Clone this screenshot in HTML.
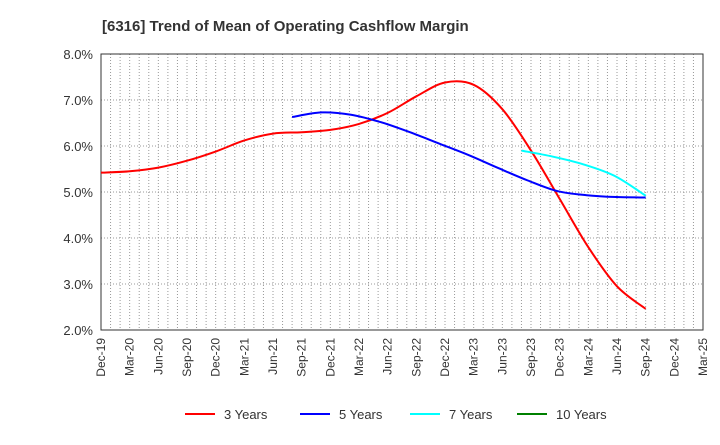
<!DOCTYPE html>
<html><head><meta charset="utf-8"><style>
body{margin:0;background:#fff;font-family:"Liberation Sans",sans-serif}
</style></head><body>
<svg id="c" width="720" height="440" xmlns="http://www.w3.org/2000/svg" font-family="Liberation Sans, sans-serif">
<text x="102" y="31" font-size="15" font-weight="bold" fill="#333">[6316]  Trend of Mean of Operating Cashflow Margin</text>
<g id="grid"></g><g id="axes"></g><g id="series"></g><g id="legend"></g>
</svg>
<script>
const xLabels=["Dec-19","Mar-20","Jun-20","Sep-20","Dec-20","Mar-21","Jun-21","Sep-21","Dec-21","Mar-22","Jun-22","Sep-22","Dec-22","Mar-23","Jun-23","Sep-23","Dec-23","Mar-24","Jun-24","Sep-24","Dec-24","Mar-25"];
const yTicks=[2,3,4,5,6,7,8];
const s3=[5.42,5.45,5.53,5.68,5.88,6.12,6.27,6.30,6.35,6.48,6.72,7.08,7.38,7.33,6.80,5.90,4.85,3.80,2.95,2.46];
const s5=[6.63,6.73,6.68,6.52,6.30,6.05,5.80,5.52,5.25,5.02,4.93,4.89,4.88];
const s7=[5.90,5.77,5.60,5.35,4.92];
const s10=[];
const names=["3 Years","5 Years","7 Years","10 Years"];
const NS="http://www.w3.org/2000/svg";
const L=101,R=703,T=54,B=330;
const xm=m=>L+(R-L)*m/63;
const xq=i=>xm(i*3);
const y=v=>B-(v-2)/6*(B-T);
function mk(t,a,p){const e=document.createElementNS(NS,t);for(const k in a)e.setAttribute(k,a[k]);p.appendChild(e);return e;}
const g=document.getElementById('grid'),ax=document.getElementById('axes'),se=document.getElementById('series'),lg=document.getElementById('legend');
for(let m=1;m<63;m++){const e=mk('line',{x1:xm(m),x2:xm(m),y1:T,y2:B,stroke:'#999','stroke-dasharray':'1,2','stroke-width':1},g);

}
yTicks.forEach(v=>{if(v>2&&v<8){const e=mk('line',{x1:L,x2:R,y1:y(v),y2:y(v),stroke:'#999','stroke-dasharray':'1,2'},g);

}
const t=mk('text',{x:L-8,y:y(v)+5,'text-anchor':'end','font-size':13,fill:'#333'},ax);t.textContent=v.toFixed(1)+'%';

});
const fr=mk('rect',{x:L,y:T,width:R-L,height:B-T,fill:'none',stroke:'#333'},ax);


xLabels.forEach((l,i)=>{const t=mk('text',{transform:`translate(${xq(i)+4},${B+8}) rotate(-90)`,'text-anchor':'end','font-size':12,fill:'#333'},ax);t.textContent=l;

});
function path(pts){let d=`M${pts[0][0]},${pts[0][1]}`;for(let i=0;i<pts.length-1;i++){const p0=pts[i-1]||pts[i],p1=pts[i],p2=pts[i+1],p3=pts[i+2]||p2;
d+=` C${p1[0]+(p2[0]-p0[0])/6},${p1[1]+(p2[1]-p0[1])/6} ${p2[0]-(p3[0]-p1[0])/6},${p2[1]-(p3[1]-p1[1])/6} ${p2[0]},${p2[1]}`;}return d;}
const END=57;
const series=[[s3,0,'#ff0000','series-3-years'],[s5,20,'#0000ff','series-5-years'],[s7,44,'#00ffff','series-7-years'],[s10,48,'#008000','series-10-years']];
series.forEach(([d,start,c,n])=>{if(d.length<2)return;const step=(END-start)/(d.length-1);
const p=mk('path',{d:path(d.map((v,i)=>[xm(start+i*step),y(v)])),fill:'none',stroke:c,'stroke-width':2},se);

});
const lx=[185,300,410,517];
series.forEach((s,i)=>{const l=mk('line',{x1:lx[i],x2:lx[i]+30,y1:414,y2:414,stroke:s[2],'stroke-width':2},lg);


const t=mk('text',{x:lx[i]+39,y:419,'font-size':13,fill:'#333'},lg);t.textContent=names[i];

});
</script>
</body></html>
